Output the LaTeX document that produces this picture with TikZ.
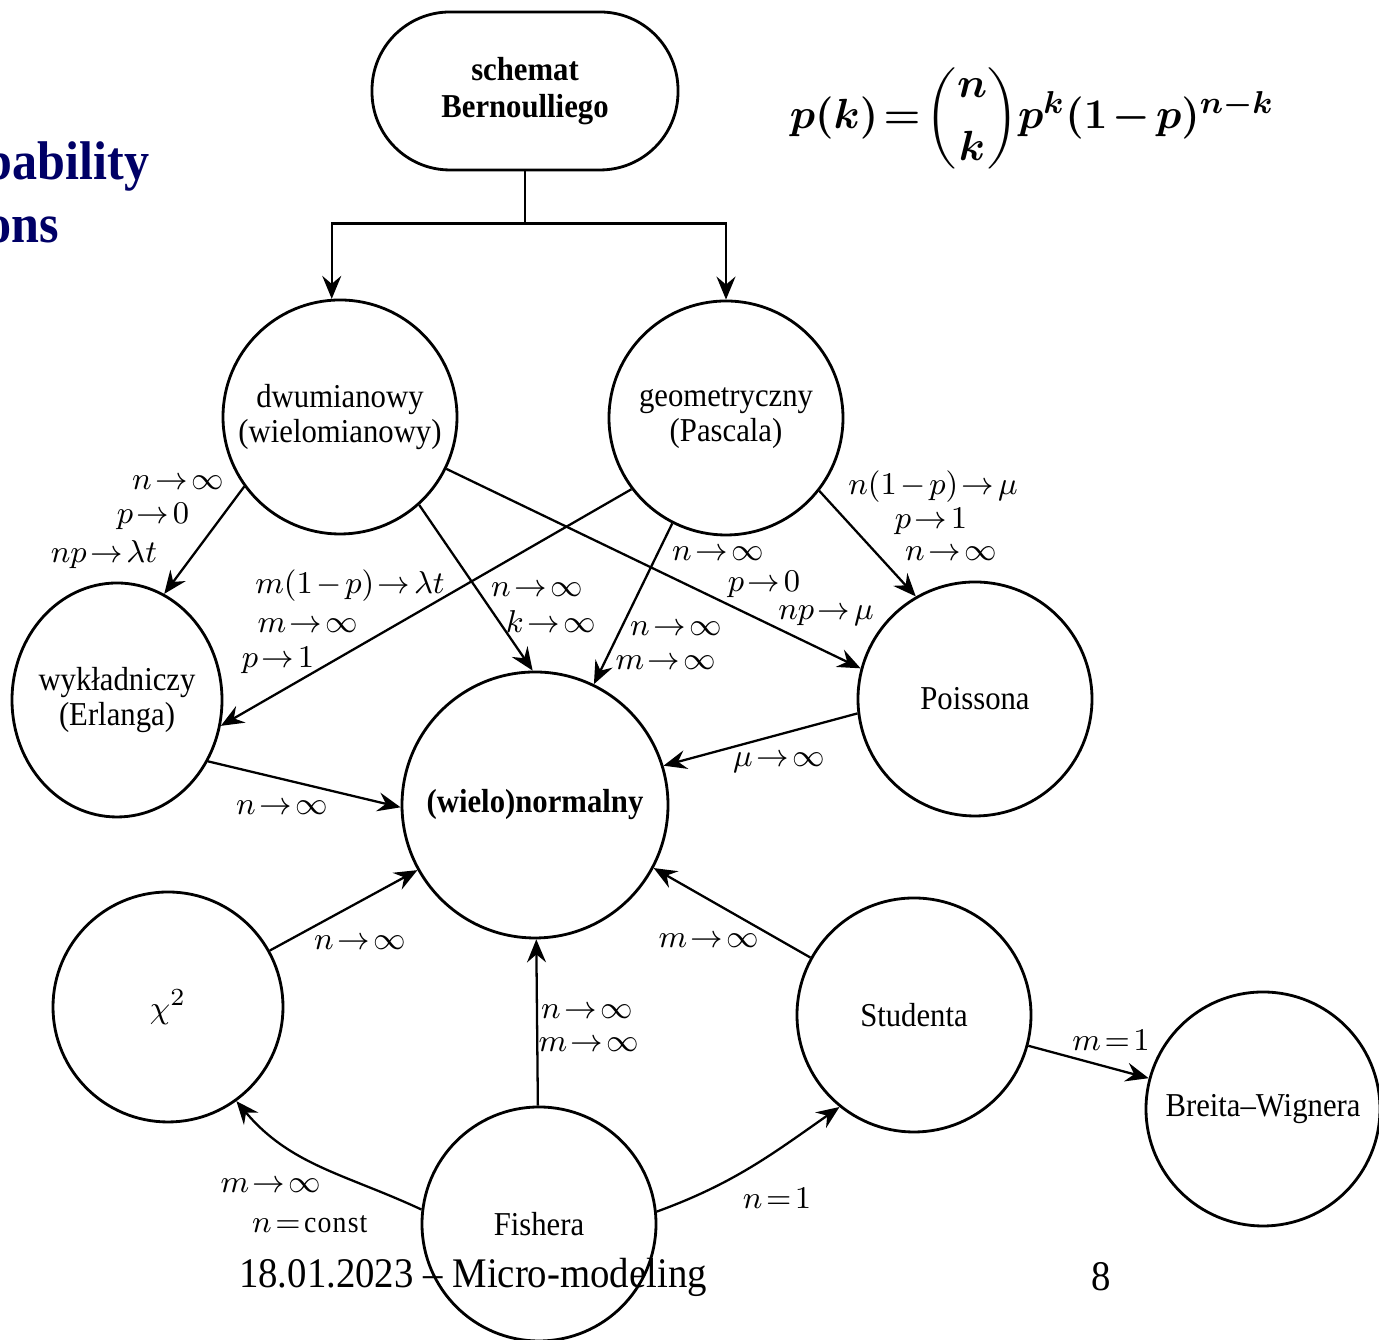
\documentclass[tikz,border=0pt]{standalone}
\usepackage{amsmath}
\usepackage{fontspec}
\setmainfont{Liberation Serif}[FakeStretch=0.92]
\usetikzlibrary{arrows.meta,shapes.geometric}
\definecolor{titleblue}{RGB}{0,0,102}
\thickmuskip=2mu plus 1mu
\medmuskip=2mu plus 1mu
\newsavebox{\wzorbox}
\tikzset{
  distr/.style={draw, circle, line width=0.8pt, minimum size=2.34cm, inner sep=0pt, align=center,
    font=\fontsize{9.5}{9.8}\selectfont},
  cond/.style={inner sep=0pt, font=\fontsize{8.6}{10}\selectfont},
  arr/.style={-{Stealth[length=2.3mm,width=1.9mm,inset=0.8mm]}, line width=0.65pt},
}
\begin{document}
\sbox{\wzorbox}{\fontsize{12.5}{15}\selectfont\boldmath$p(k)=\dbinom{n}{k}p^{k}(1-p)^{n-k}$}
\begin{tikzpicture}
\useasboundingbox (0,0) rectangle (13.79,13.40);
\begin{scope}
\clip (0,0) rectangle (13.79,13.40);
\node[anchor=base east, inner sep=0pt, text=titleblue, font=\fontsize{15.5}{18}\selectfont\bfseries] (tit1) at (1.50,11.60) {Probability};
\node[anchor=base east, inner sep=0pt, text=titleblue, font=\fontsize{15.5}{18}\selectfont\bfseries] (tit2) at (0.60,10.97) {distributions};
\end{scope}

\node[draw, rounded corners=0.78cm, minimum width=3.06cm, minimum height=1.58cm, line width=0.8pt,
  align=center, font=\fontsize{9.5}{10.5}\selectfont\bfseries] (ber) at (5.25,12.49) {schemat\\Bernoulliego};
\node[inner sep=0pt] (wzor) at (10.32,12.22) {\usebox{\wzorbox}};

\node[distr] (dwu) at (3.40,9.23) {dwumianowy\\(wielomianowy)};
\node[distr] (geo) at (7.26,9.22) {geometryczny\\(Pascala)};
\node[distr, ellipse, inner sep=-4pt, minimum width=2.10cm, minimum height=2.34cm] (wyk) at (1.17,6.40) {wykładniczy\\(Erlanga)};
\node[distr, minimum size=2.66cm, font=\fontsize{9.5}{9.8}\selectfont\bfseries] (norm) at (5.35,5.35) {(wielo)normalny};
\node[distr] (poi) at (9.75,6.41) {Poissona};
\node[distr, minimum size=2.30cm] (chi) at (1.68,3.33) {$\chi^2$};
\node[distr] (stu) at (9.14,3.25) {Studenta};
\node[distr] (bw) at (12.63,2.31) {Breita–Wignera};
\node[distr] (fis) at (5.39,1.16) {Fishera};

\coordinate (split) at ([yshift=-0.52cm]ber.south);
\draw[line width=0.65pt] (ber.south) -- (split);
\draw[arr] (split) -| (dwu.94);
\draw[arr] (split) -| (geo.north);

\draw[arr] (dwu.216) -- (wyk.66);
\draw[arr] (geo.217) -- (wyk.-14);
\draw[arr] (dwu.-48) -- (norm.91);
\draw[arr] (dwu.-26) -- (poi.165);
\draw[arr] (geo.243) -- (norm.64);
\draw[arr] (geo.-38) -- (poi.120);
\draw[arr] (poi.187) -- (norm.17);
\draw[arr] (wyk.-34) -- (norm.181);
\draw[arr] (chi.29) -- (norm.209);
\draw[arr] (fis) -- (norm);
\draw[arr] (stu.151) -- (norm.-28);
\draw[arr] (stu) -- (bw);
\draw[arr] (fis.173) to[out=155, in=-50] (chi.-54);
\draw[arr] (fis.6) to[out=20, in=215] (stu.231);

\node[cond] (c1) at (1.78,8.57) {$n\to\infty$};
\node[cond] (c2) at (1.53,8.24) {$p\to0$};
\node[cond] (c3) at (1.04,7.85) {$np\to\lambda t$};
\node[cond] (c4) at (3.50,7.54) {$m(1-p)\to\lambda t$};
\node[cond] (c5) at (3.08,7.14) {$m\to\infty$};
\node[cond] (c6) at (2.78,6.80) {$p\to1$};
\node[cond] (c7) at (5.37,7.50) {$n\to\infty$};
\node[cond] (c8) at (5.51,7.18) {$k\to\infty$};
\node[cond] (c9) at (7.18,7.86) {$n\to\infty$};
\node[cond] (c10) at (7.64,7.56) {$p\to0$};
\node[cond] (c11) at (8.26,7.24) {$np\to\mu$};
\node[cond] (c12) at (6.76,7.11) {$n\to\infty$};
\node[cond] (c13) at (6.66,6.77) {$m\to\infty$};
\node[cond] (c14) at (9.33,8.53) {$n(1-p)\to\mu$};
\node[cond] (c15) at (9.31,8.19) {$p\to1$};
\node[cond] (c16) at (9.51,7.86) {$n\to\infty$};
\node[cond] (c17) at (7.79,5.77) {$\mu\to\infty$};
\node[cond] (c18) at (2.82,5.32) {$n\to\infty$};
\node[cond] (c19) at (3.60,3.97) {$n\to\infty$};
\node[cond] (c20) at (5.87,3.28) {$n\to\infty$};
\node[cond] (c21) at (5.89,2.95) {$m\to\infty$};
\node[cond] (c22) at (7.09,3.99) {$m\to\infty$};
\node[cond] (c23) at (11.11,3.00) {$m=1$};
\node[cond] (c24) at (2.71,1.54) {$m\to\infty$};
\node[cond] (c25) at (3.10,1.16) {$n=\mathrm{const}$};
\node[cond] (c26) at (7.77,1.42) {$n=1$};

\node[font=\fontsize{12}{14}\selectfont, inner sep=0pt] (stopka) at (4.73,0.63) {18.01.2023 – Micro-modeling};
\node[font=\fontsize{12}{14}\selectfont, inner sep=0pt] (strona) at (11.01,0.63) {8};
\end{tikzpicture}
\end{document}
